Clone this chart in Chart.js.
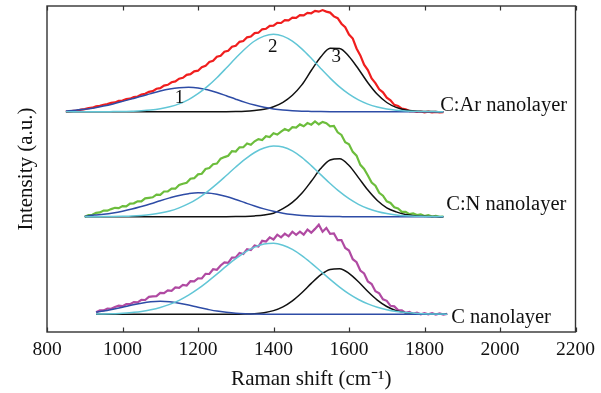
<!DOCTYPE html>
<html><head><meta charset="utf-8">
<script src="https://cdn.jsdelivr.net/npm/chart.js@4.4.0/dist/chart.umd.min.js"></script>
<style>html,body{margin:0;padding:0;background:#fff}canvas{display:block}</style>
</head><body>
<canvas id="c" width="601" height="393"></canvas>
<script>
// ---------- data (intensities in arbitrary units, above each spectrum's own baseline) ----------
const xTickValues = [800, 1000, 1200, 1400, 1600, 1800, 2000, 2200];
const sampleNames = ['C:Ar nanolayer', 'C:N nanolayer', 'C nanolayer'];
const peakNames = ['1', '2', '3'];
const stackOffsets = [220.3, 115.3, 17.7];   // vertical stacking of the three spectra

// C:Ar measured spectrum
const arShiftExp = [850,860,870,880,890,900,910,920,930,940,
 950,960,970,980,990,1000,1010,1020,1030,1040,
 1050,1060,1070,1080,1090,1100,1110,1120,1130,1140,
 1150,1160,1170,1180,1190,1200,1210,1220,1230,1240,
 1250,1260,1270,1280,1290,1300,1310,1320,1330,1340,
 1350,1360,1370,1380,1390,1400,1410,1420,1430,1440,
 1450,1460,1470,1480,1490,1500,1510,1520,1530,1540,
 1550,1560,1570,1580,1590,1600,1610,1620,1630,1640,
 1650,1660,1670,1680,1690,1700,1710,1720,1730,1740,
 1750,1760,1770,1780,1790,1800,1810,1820,1830,1840,1850];
const arIntensity = [0.0,0.4,0.8,1.1,2.0,2.6,3.6,4.0,5.3,5.8,
 7.0,7.6,8.9,9.3,10.8,11.1,12.6,13.0,14.6,15.2,
 17.1,17.9,19.9,20.6,23.0,23.5,26.1,26.9,29.4,30.3,
 33.0,33.9,36.8,37.5,40.4,41.0,44.4,45.8,49.8,50.9,
 54.9,56.0,60.0,61.0,65.0,65.9,69.9,70.6,74.4,75.1,
 78.6,79.0,82.4,82.9,85.8,86.1,88.9,88.7,91.6,91.4,
 94.0,93.9,96.5,96.3,98.9,98.4,100.8,100.0,101.6,100.1,
 99.1,95.3,93.5,88.0,84.5,77.1,73.1,63.2,56.3,47.0,
 41.6,33.2,28.6,22.4,19.4,14.0,11.3,6.8,5.7,3.0,
 2.4,0.6,0.7,-0.3,0.2,-0.6,0.0,-0.7,-0.2,-0.8,-0.4];

// C:Ar fitted components
const arShiftFit = [850,875,900,925,950,975,1000,1025,1050,1075,1100,1125,1150,1175,1200,1225,1250,1275,1300,1325,
 1350,1375,1400,1425,1450,1475,1500,1525,1550,1575,1600,1625,1650,1675,1700,1725,1750,1775,1800,1825,1850];
const arPeak1 = [0.8,1.5,2.4,3.8,5.6,7.8,10.3,12.9,15.4,18.1,20.6,22.6,23.9,24.4,23.8,21.9,19.2,15.9,12.5,9.3,
 6.6,4.4,2.8,1.7,1.0,0.5,0.3,0.1,0,0,0,0,0,0,0,0,0,0,0,0,0];
const arPeak2 = [0,0,0,0,0,0.1,0.2,0.5,0.9,1.6,2.9,4.9,7.8,12.1,18.0,25.3,34.0,43.7,53.7,63.0,
 70.7,75.6,77.4,75.6,70.5,62.8,53.4,43.3,33.6,24.8,17.5,11.8,7.6,4.7,2.7,1.5,0.8,0.4,0.2,0.1,0];
const arPeak3 = [0,0,0,0,0,0,0,0,0,0,0,0,0,0,0,0,0,0,0.1,0.4,
 1.2,2.4,5.0,9.4,16.5,26.8,41.2,54.7,63.4,63.3,55.2,42.7,29.0,17.4,9.2,4.3,1.7,0.6,0.2,0.1,0];

// C:N measured spectrum
const cnShiftExp = [900,910,920,930,940,950,960,970,980,990,
 1000,1010,1020,1030,1040,1050,1060,1070,1080,1090,
 1100,1110,1120,1130,1140,1150,1160,1170,1180,1190,
 1200,1210,1220,1230,1240,1250,1260,1270,1280,1290,
 1300,1310,1320,1330,1340,1350,1360,1370,1380,1390,
 1400,1410,1420,1430,1440,1450,1460,1470,1480,1490,
 1500,1510,1520,1530,1540,1550,1560,1570,1580,1590,
 1600,1610,1620,1630,1640,1650,1660,1670,1680,1690,
 1700,1710,1720,1730,1740,1750,1760,1770,1780,1790,
 1800,1810,1820,1830,1840,1850];
const cnIntensity = [0.0,1.6,1.9,3.8,4.3,6.1,6.0,7.6,8.9,8.6,
 10.6,10.3,13.1,13.4,15.4,15.3,18.4,18.9,19.4,22.1,
 21.9,25.2,25.3,28.0,28.0,31.7,33.0,33.9,38.0,38.5,
 42.3,42.9,47.7,48.6,52.5,53.1,58.0,59.6,60.9,65.6,
 65.2,69.4,69.5,73.2,72.0,75.4,77.6,76.7,80.5,79.7,
 83.4,82.1,85.1,87.6,85.9,89.6,89.0,92.3,90.4,93.6,
 92.0,95.3,92.4,94.8,93.5,90.3,90.7,84.4,81.8,74.4,
 72.4,64.8,61.0,51.9,47.8,41.2,34.2,31.0,23.9,21.0,
 15.4,13.7,9.4,8.2,4.9,4.9,2.5,3.3,1.7,2.4,
 0.7,1.5,0.1,0.8,-0.1,0.2];

// C:N fitted components
const cnShiftFit = [900,925,950,975,1000,1025,1050,1075,1100,1125,1150,1175,1200,1225,1250,1275,1300,1325,1350,1375,
 1400,1425,1450,1475,1500,1525,1550,1575,1600,1625,1650,1675,1700,1725,1750,1775,1800,1825,1850];
const cnPeak1 = [0.4,1.6,2.5,3.8,5.5,7.6,10.2,13.0,16.0,18.8,21.3,23.0,23.9,23.8,22.5,20.2,17.2,13.9,10.7,7.8,
 5.4,3.5,2.2,1.3,0.7,0.4,0.2,0.1,0,0,0,0,0,0,0,0,0,0,0];
const cnPeak2 = [0,0,0.1,0.2,0.4,0.7,1.3,2.2,3.6,5.7,8.8,13.0,18.4,25.1,32.8,41.2,49.7,57.6,64.2,68.7,
 70.6,69.7,65.8,59.3,51.1,42.1,33.2,25.0,18.0,12.4,8.2,5.2,3.1,1.8,1.0,0.5,0.3,0.1,0.1];
const cnPeak3 = [0,0,0,0,0,0,0,0,0,0,0,0,0,0,0,0,0.1,0.3,0.8,1.7,
 3.5,8.0,14.3,23.4,35.4,48.1,56.7,57.9,51.2,39.1,26.6,16.2,8.9,4.8,2.2,1.0,0.4,0.1,0];

// C measured spectrum
const cShiftExp = [930,940,950,960,970,980,990,1000,1010,1020,
 1030,1040,1050,1060,1070,1080,1090,1100,1110,1120,
 1130,1140,1150,1160,1170,1180,1190,1200,1210,1220,
 1230,1240,1250,1260,1270,1280,1290,1300,1310,1320,
 1330,1340,1350,1360,1370,1380,1390,1400,1410,1420,
 1430,1440,1450,1460,1470,1480,1490,1500,1510,1520,
 1530,1540,1550,1560,1570,1580,1590,1600,1610,1620,
 1630,1640,1650,1660,1670,1680,1690,1700,1710,1720,
 1730,1740,1750,1760,1770,1780,1790,1800,1810,1820,
 1830,1840,1850,1860];
const cIntensity = [2.0,3.9,3.9,5.8,5.5,7.3,8.6,8.1,10.1,10.1,
 12.2,12.0,14.5,14.3,17.5,18.0,18.1,21.4,21.2,23.9,
 23.4,26.9,26.4,29.4,28.8,33.1,33.0,35.9,35.8,40.4,
 40.3,45.1,44.5,48.8,52.0,51.5,56.7,56.9,61.4,60.3,
 65.1,64.3,68.7,67.8,73.5,72.8,76.9,74.8,79.6,76.9,
 80.7,78.0,82.6,79.5,82.7,79.6,84.8,81.6,85.4,89.6,
 82.6,86.3,80.5,80.9,74.1,74.2,66.4,63.8,55.1,52.1,
 43.8,40.8,32.8,30.2,23.1,20.9,15.0,13.5,8.5,7.9,
 4.2,4.0,1.5,2.4,0.4,1.6,0.0,1.2,0.0,1.1,
 -0.2,0.9,-0.2,0.4];

// C fitted components
const cShiftFit = [930,950,975,1000,1025,1050,1075,1100,1125,1150,1175,1200,1225,1250,1275,1300,1325,1350,1375,
 1400,1425,1450,1475,1500,1525,1550,1575,1600,1625,1650,1675,1700,1725,1750,1775,1800,1825,1850,1860];
const cPeak1 = [2.2,3.2,5.0,7.0,9.2,11.1,12.5,13.0,12.5,11.1,9.2,7.0,5.0,3.2,2.0,1.1,0.6,0.3,0.1,
 0,0,0,0,0,0,0,0,0,0,0,0,0,0,0,0,0,0,0,0];
const cPeak2 = [0.2,0.3,0.6,1.0,1.8,2.8,4.5,6.8,9.9,14.0,19.2,25.4,32.5,40.2,48.1,55.6,62.2,67.2,70.2,
 71.0,69.1,64.9,58.7,51.2,43.1,34.9,27.2,20.4,14.8,10.4,7.0,4.5,2.8,1.7,1.0,0.6,0.3,0.2,0.1];
const cPeak3 = [0,0,0,0,0,0,0,0,0,0,0,0,0,0,0,0.1,0.2,0.6,1.6,
 3.7,7.5,13.5,21.6,30.9,39.5,44.9,45.6,41.0,32.6,22.8,14.2,7.8,3.7,1.6,0.6,0.2,0.1,0,0];

// ---------- styling ----------
const SERIF = '"Liberation Serif", "Times New Roman", serif';
const COL = { red:'#f01e1e', green:'#6cbd3c', magenta:'#b04aa2', cyan:'#62c6d6', blue:'#2e4ca6', black:'#111111' };

function pts(xs, ys, off) { return xs.map((x, i) => ({ x: x, y: ys[i] + off })); }
function fitLine(xs, ys, off, color) {
  return { data: pts(xs, ys, off), borderColor: color, borderWidth: 1.5, pointRadius: 0,
           cubicInterpolationMode: 'monotone', fill: false, order: 1 };
}
function expLine(xs, ys, off, color) {
  return { data: pts(xs, ys, off), borderColor: color, borderWidth: 2.2, pointRadius: 0,
           tension: 0, fill: false, order: 5 };
}

const datasets = [
  expLine(arShiftExp, arIntensity, stackOffsets[0], COL.red),
  fitLine(arShiftFit, arPeak2, stackOffsets[0], COL.cyan),
  fitLine(arShiftFit, arPeak1, stackOffsets[0], COL.blue),
  fitLine(arShiftFit, arPeak3, stackOffsets[0], COL.black),
  expLine(cnShiftExp, cnIntensity, stackOffsets[1], COL.green),
  fitLine(cnShiftFit, cnPeak2, stackOffsets[1], COL.cyan),
  fitLine(cnShiftFit, cnPeak1, stackOffsets[1], COL.blue),
  fitLine(cnShiftFit, cnPeak3, stackOffsets[1], COL.black),
  expLine(cShiftExp, cIntensity, stackOffsets[2], COL.magenta),
  fitLine(cShiftFit, cPeak2, stackOffsets[2], COL.cyan),
  fitLine(cShiftFit, cPeak1, stackOffsets[2], COL.blue),
  fitLine(cShiftFit, cPeak3, stackOffsets[2], COL.black)
];

// frame with inward ticks
const framePlugin = {
  id: 'frame',
  afterDraw(chart) {
    const { ctx, chartArea: a, scales } = chart;
    const xs = scales.x;
    ctx.save();
    ctx.strokeStyle = '#333';
    ctx.lineWidth = 1.4;
    ctx.strokeRect(a.left, a.top, a.right - a.left, a.bottom - a.top);
    ctx.beginPath();
    xs.ticks.forEach(t => {
      const px = Math.round(xs.getPixelForValue(t.value)) + 0.5;
      ctx.moveTo(px, a.bottom); ctx.lineTo(px, a.bottom - 4.5);
      ctx.moveTo(px, a.top); ctx.lineTo(px, a.top + 4.5);
    });
    ctx.lineWidth = 1.2;
    ctx.stroke();
    ctx.restore();
  }
};

// text annotations, placed in data coordinates
const textPlugin = {
  id: 'texts',
  afterDatasetsDraw(chart) {
    const { ctx, scales: { x, y } } = chart;
    ctx.save();
    ctx.fillStyle = '#111';
    ctx.textAlign = 'center';
    ctx.textBaseline = 'middle';
    ctx.font = '19px ' + SERIF;
    const peakAt = [[1151, 234], [1398, 285.3], [1566, 275.3]];
    peakNames.forEach((t, i) => ctx.fillText(t, x.getPixelForValue(peakAt[i][0]), y.getPixelForValue(peakAt[i][1])));
    ctx.textAlign = 'left';
    ctx.textBaseline = 'alphabetic';
    ctx.font = '20.5px ' + SERIF;
    const nameAt = [[1841.5, 221.3], [1857.5, 122], [1871, 9.3]];
    sampleNames.forEach((t, i) => ctx.fillText(t, x.getPixelForValue(nameAt[i][0]), y.getPixelForValue(nameAt[i][1])));
    ctx.restore();
  }
};

new Chart(document.getElementById('c'), {
  type: 'line',
  data: { datasets: datasets },
  options: {
    responsive: false,
    animation: false,
    devicePixelRatio: 1,
    layout: { padding: { left: 0, right: 25, top: 6, bottom: 0 } },
    plugins: { legend: { display: false }, tooltip: { enabled: false } },
    scales: {
      x: {
        type: 'linear', min: 800, max: 2200,
        afterBuildTicks: s => { s.ticks = xTickValues.map(v => ({ value: v })); },
        afterFit: s => { s.height = 61; },
        grid: { display: false, drawTicks: false },
        border: { display: false },
        ticks: { padding: 6, color: '#111', font: { family: SERIF, size: 19.5 }, callback: v => String(v), maxRotation: 0, autoSkip: false },
        title: { display: true, text: 'Raman shift (cm\u207B\u00B9)', color: '#111', font: { family: SERIF, size: 21 }, padding: { top: 0, bottom: 1 } }
      },
      y: {
        type: 'linear', min: 0, max: 326,
        afterFit: s => { s.width = 47; },
        grid: { display: false, drawTicks: false },
        border: { display: false },
        ticks: { display: false },
        title: { display: true, text: 'Intensity (a.u.)', color: '#111', font: { family: SERIF, size: 21 }, padding: { top: 14, bottom: 0 } }
      }
    }
  },
  plugins: [framePlugin, textPlugin]
});
</script>
</body></html>
